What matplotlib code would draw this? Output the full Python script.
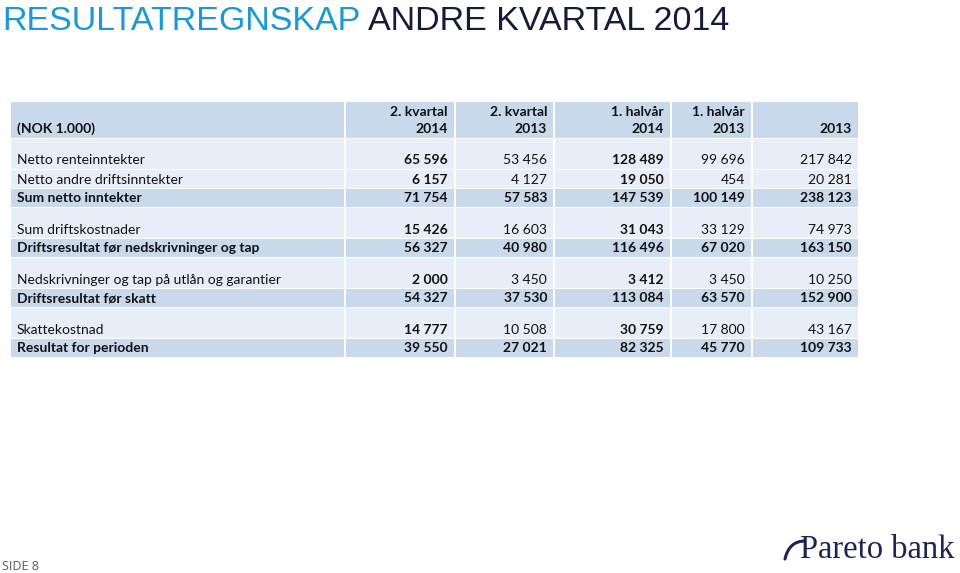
import matplotlib
matplotlib.use("Agg")
import matplotlib.pyplot as plt
from matplotlib.patches import Rectangle, PathPatch
from matplotlib.path import Path

# data
col_headers = [("2. kvartal", "2014"), ("2. kvartal", "2013"), ("1. halvår", "2014"),
               ("1. halvår", "2013"), ("", "2013")]
row_labels = ["Netto renteinntekter", "Netto andre driftsinntekter", "Sum netto inntekter",
              "Sum driftskostnader", "Driftsresultat før nedskrivninger og tap",
              "Nedskrivninger og tap på utlån og garantier", "Driftsresultat før skatt",
              "Skattekostnad", "Resultat for perioden"]
q2_2014 = [65596, 6157, 71754, 15426, 56327, 2000, 54327, 14777, 39550]
q2_2013 = [53456, 4127, 57583, 16603, 40980, 3450, 37530, 10508, 27021]
h1_2014 = [128489, 19050, 147539, 31043, 116496, 3412, 113084, 30759, 82325]
h1_2013 = [99696, 454, 100149, 33129, 67020, 3450, 63570, 17800, 45770]
y_2013 = [217842, 20281, 238123, 74973, 163150, 10250, 152900, 43167, 109733]
columns = [q2_2014, q2_2013, h1_2014, h1_2013, y_2013]
bold_cols = [True, False, True, False, False]
sum_rows = [False, False, True, False, True, False, True, False, True]
spacer = [True, False, False, True, False, True, False, True, False]

W, H = 960, 573
fig = plt.figure(figsize=(9.6, 5.73), dpi=100)
ax = fig.add_axes([0, 0, 1, 1])
ax.set_xlim(0, W)
ax.set_ylim(H, 0)
ax.axis("off")

c_head = "#c8d9ec"
c_light = "#e8eef7"
c_dark = "#c8d9ec"
txt = "#111111"
body_font = ["Lato", "DejaVu Sans"]
fs = 10


def fmt(v):
    return f"{v:,}".replace(",", " ")


# layout
edges = [10, 345, 455, 554, 671, 752, 859]
gap = 1.5


def cell(x0, x1, y0, y1, color):
    ax.add_patch(Rectangle((x0 + gap / 2, y0), x1 - x0 - gap, y1 - y0, fc=color, ec="none"))


# header
hy0, hy1 = 102, 138
for i in range(len(edges) - 1):
    cell(edges[i], edges[i + 1], hy0, hy1, c_head)
ax.text(17, 129, "(NOK 1.000)", ha="left", va="center", fontsize=fs, family=body_font,
        fontweight="bold", color=txt)
for j, (l1, l2) in enumerate(col_headers):
    xr = edges[j + 2] - 7
    if l1:
        ax.text(xr, 112, l1, ha="right", va="center", fontsize=fs, family=body_font,
                fontweight="bold", color=txt)
    ax.text(xr, 129, l2, ha="right", va="center", fontsize=fs, family=body_font,
            fontweight="bold", color=txt)

# body
y = hy1 + 1
for r, lab in enumerate(row_labels):
    h = 30 if spacer[r] else 18
    y0, y1 = y, y + h
    color = c_dark if sum_rows[r] else c_light
    for i in range(len(edges) - 1):
        cell(edges[i], edges[i + 1], y0, y1, color)
    ty = y1 - 8.5
    ax.text(17, ty, lab, ha="left", va="center", fontsize=fs, family=body_font,
            fontweight="bold" if sum_rows[r] else "normal", color=txt)
    for j, col in enumerate(columns):
        b = sum_rows[r] or bold_cols[j]
        ax.text(edges[j + 2] - 7, ty, fmt(col[r]), ha="right", va="center", fontsize=fs,
                family=body_font, fontweight="bold" if b else "normal", color=txt)
    y = y1 + 1

# title
tfont = ["Liberation Sans", "DejaVu Sans"]
t1 = ax.text(2, 21, "RESULTATREGNSKAP", ha="left", va="center", fontsize=24.5,
             family=tfont, color="#1b98d5")
fig.canvas.draw()
bb = t1.get_window_extent(fig.canvas.get_renderer())
x_next = ax.transData.inverted().transform((bb.x1, 0))[0] + 8
ax.text(x_next, 21, "ANDRE KVARTAL 2014", ha="left", va="center", fontsize=24.5,
        family=tfont, color="#161a3c")

# footer
ax.text(2, 566, "SIDE 8", ha="left", va="center", fontsize=9, family=["Open Sans", "DejaVu Sans"],
        color="#595959")
ax.text(800, 550, "Pareto bank", ha="left", va="center", fontsize=23.5,
        family=["Liberation Serif", "DejaVu Serif"], color="#1b2452")
swoosh = Path([(785, 559), (789, 541), (805, 541)], [Path.MOVETO, Path.CURVE3, Path.CURVE3])
ax.add_patch(PathPatch(swoosh, fc="none", ec="#1b2452", lw=2.2, capstyle="round"))

fig.savefig("out.png", dpi=100)
